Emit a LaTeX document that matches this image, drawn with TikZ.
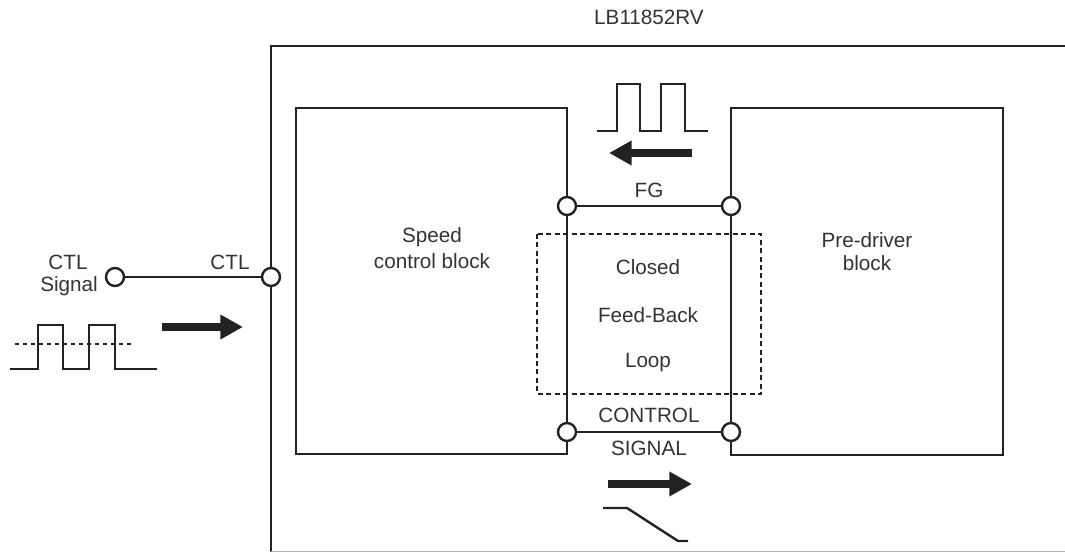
\documentclass[tikz,border=0pt]{standalone}
\usepackage{fontspec}
\setmainfont{Liberation Sans}
\usetikzlibrary{arrows.meta}
\definecolor{ink}{HTML}{222222}
\definecolor{txt}{HTML}{333333}
\begin{document}
\begin{tikzpicture}[x=0.75pt,y=-0.75pt,
 ln/.style={line width=1.8pt, draw=ink},
 pin/.style={circle, draw=ink, line width=1.8pt, fill=white, minimum size=13.5pt, inner sep=0pt},
 lbl/.style={font=\fontsize{15.5}{18}\selectfont, text=txt, inner sep=0pt},
 bigarrow/.style={line width=5.5pt, draw=ink, -{Triangle[length=17pt,width=17.5pt]}},
 wave/.style={line width=1.8pt, draw=ink},
 loopbox/.style={line width=1.8pt, draw=ink, dash pattern=on 3.75pt off 2.6pt},
 refline/.style={line width=1.5pt, draw=ink, dash pattern=on 3pt off 3pt},
 ]
\useasboundingbox (0,0) rectangle (1065,552);
% outer IC box
\draw[ln] (1066,46) -- (271,46) -- (271,553);
\draw[gray!60, line width=0.75pt] (271,551.5) -- (1065,551.5);
\node[lbl] (title) at (649,17) {LB11852RV};
% blocks
\draw[ln] (296,108) rectangle (567,454);
\draw[ln] (731,108) rectangle (1003,455);
\node[lbl] (sp1) at (432,237) {Speed};
\node[lbl] (sp2) at (432,261) {control block};
\node[lbl] (pd1) at (867,240) {Pre-driver};
\node[lbl] (pd2) at (867,263) {block};
% feedback loop
\draw[loopbox] (537,234) rectangle (761,394);
\node[lbl] (cl1) at (648,267) {Closed};
\node[lbl] (cl2) at (648,315) {Feed-Back};
\node[lbl] (cl3) at (648,363) {Loop};
% pins
\node[pin] (fg1) at (567,206) {};
\node[pin] (fg2) at (731,206) {};
\node[pin] (cs1) at (567,432) {};
\node[pin] (cs2) at (731,432) {};
\node[pin] (ctlin) at (115,277) {};
\node[pin] (ctlpin) at (271,277) {};
\draw[ln] (fg1) -- (fg2);
\draw[ln] (cs1) -- (cs2);
\draw[ln] (ctlin) -- (ctlpin);
\node[lbl] (fg) at (649,190) {FG};
\node[lbl] (ctrl) at (649,415) {CONTROL};
\node[lbl] (sig) at (649,448) {SIGNAL};
\node[lbl] (ctl1) at (68,262) {CTL};
\node[lbl] (ctl2) at (69,286) {Signal};
\node[lbl] (ctl3) at (230,262) {CTL};
% waveforms
\draw[wave] (10,369) -- (38,369) -- (38,325) -- (63,325) -- (63,369) -- (89,369) -- (89,325) -- (115,325) -- (115,369) -- (157,369);
\draw[refline] (15,344) -- (131,344);
\draw[wave] (597,131) -- (617,131) -- (617,84) -- (640,84) -- (640,131) -- (661,131) -- (661,84) -- (685,84) -- (685,131) -- (708,131);
\draw[wave] (603,508) -- (627,508) -- (678,541) -- (688,541);
% arrows
\coordinate (a1s) at (162,327); \coordinate (a1e) at (243,327);
\coordinate (a2s) at (692,153); \coordinate (a2e) at (609,153);
\coordinate (a3s) at (608,484); \coordinate (a3e) at (692,484);
\draw[bigarrow] (a1s) -- (a1e);
\draw[bigarrow] (a2s) -- (a2e);
\draw[bigarrow] (a3s) -- (a3e);
\end{tikzpicture}
\end{document}
